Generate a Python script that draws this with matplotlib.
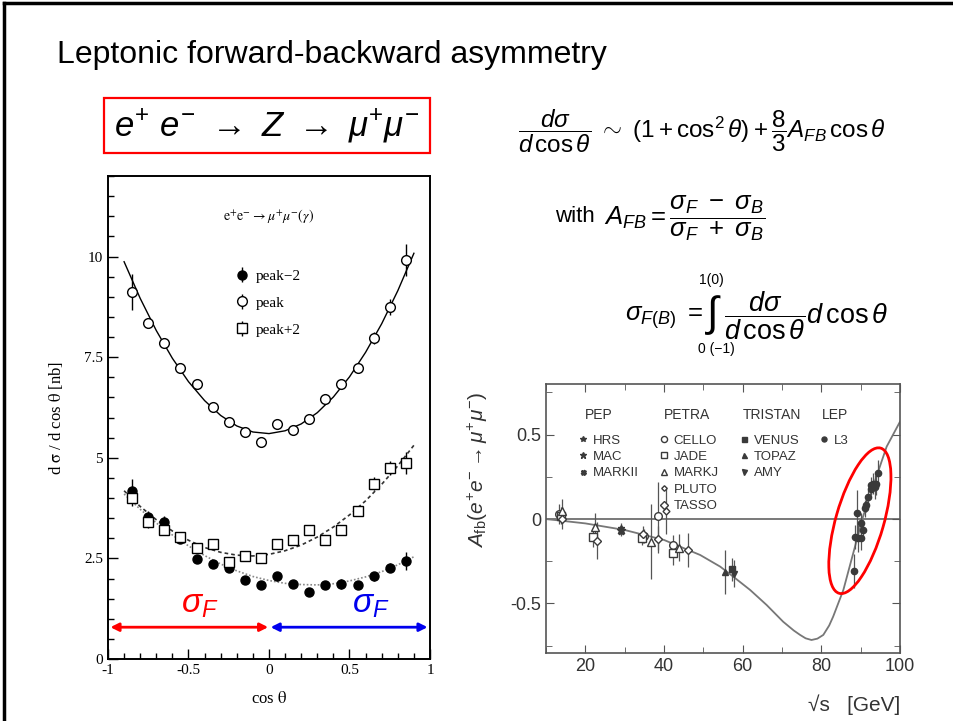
import numpy as np
import matplotlib
matplotlib.use('Agg')
import matplotlib.pyplot as plt
from matplotlib.patches import Rectangle, Ellipse
from matplotlib.lines import Line2D
import matplotlib.transforms as mtransforms
from matplotlib.ticker import MultipleLocator, FuncFormatter

plt.rcParams['axes.unicode_minus'] = False
plt.rcParams['mathtext.fontset'] = 'custom'
plt.rcParams['mathtext.rm'] = 'Liberation Sans'
plt.rcParams['mathtext.it'] = 'Liberation Sans:italic'
plt.rcParams['mathtext.bf'] = 'Liberation Sans:bold'
plt.rcParams['font.family'] = ['Liberation Sans', 'DejaVu Sans']

# ---------------- left panel data ----------------
cos_theta = [-0.85, -0.75, -0.65, -0.55, -0.45, -0.35, -0.25, -0.15, -0.05,
             0.05, 0.15, 0.25, 0.35, 0.45, 0.55, 0.65, 0.75, 0.85]
peak = [9.11, 8.35, 7.85, 7.24, 6.82, 6.27, 5.90, 5.65, 5.40,
        5.83, 5.68, 5.96, 6.45, 6.82, 7.24, 7.98, 8.74, 9.92]
peak_err = [0.45, 0.12, 0.12, 0.12, 0.12, 0.12, 0.12, 0.12, 0.12,
            0.12, 0.12, 0.12, 0.12, 0.12, 0.12, 0.15, 0.2, 0.4]
peak_m2 = [4.17, 3.52, 3.40, 2.99, 2.49, 2.37, 2.27, 1.96, 1.85,
           2.05, 1.86, 1.67, 1.83, 1.86, 1.83, 2.05, 2.27, 2.43]
peak_m2_err = [0.3, 0.15, 0.15, 0.12, 0.1, 0.1, 0.1, 0.1, 0.1,
               0.12, 0.1, 0.1, 0.1, 0.12, 0.1, 0.1, 0.12, 0.22]
peak_p2 = [4.00, 3.40, 3.21, 3.04, 2.76, 2.86, 2.41, 2.57, 2.52,
           2.86, 2.95, 3.21, 2.96, 3.21, 3.67, 4.36, 4.74, 4.87]
peak_p2_err = [0.2, 0.15, 0.12, 0.1, 0.1, 0.1, 0.1, 0.1, 0.1,
               0.1, 0.1, 0.1, 0.1, 0.12, 0.12, 0.15, 0.18, 0.28]

fit_x = [-0.9, -0.8, -0.7, -0.6, -0.5, -0.4, -0.3, -0.2, -0.1, 0.0,
         0.1, 0.2, 0.3, 0.4, 0.5, 0.6, 0.7, 0.8, 0.9]
fit_peak = [9.87, 8.96, 8.16, 7.47, 6.89, 6.42, 6.05, 5.79, 5.64, 5.60,
            5.67, 5.84, 6.12, 6.51, 7.01, 7.62, 8.33, 9.15, 10.08]
fit_p2 = [4.18, 3.79, 3.46, 3.18, 2.95, 2.77, 2.65, 2.58, 2.56, 2.60,
          2.69, 2.83, 3.03, 3.28, 3.58, 3.93, 4.34, 4.80, 5.31]
fit_m2 = [4.10, 3.72, 3.38, 3.08, 2.81, 2.57, 2.36, 2.19, 2.05, 1.95,
          1.88, 1.85, 1.84, 1.87, 1.94, 2.04, 2.17, 2.34, 2.54]

# ---------------- right panel data ----------------
curve_sqrts = [10, 20, 30, 40, 49.2, 54.3, 57.6, 61.9, 66.1, 70.3, 73.0, 74.6,
               76.0, 77.5, 79.0, 80.5, 82.0, 83.0, 85.6, 88.1, 90.6, 94.0, 96.6, 100]
curve_afb = [0.0, -0.026, -0.065, -0.124, -0.213, -0.282, -0.341, -0.42, -0.509,
             -0.608, -0.66, -0.686, -0.706, -0.716, -0.708, -0.686, -0.63, -0.578,
             -0.42, -0.203, 0.014, 0.25, 0.428, 0.576]

experiments = ['HRS', 'MAC', 'MARKII', 'CELLO', 'JADE', 'MARKJ', 'PLUTO', 'TASSO',
               'VENUS', 'TOPAZ', 'AMY', 'L3']
exp_x = {
    'HRS': [29.0], 'MAC': [29.0], 'MARKII': [29.0],
    'CELLO': [13.4, 34.8, 38.6, 42.4],
    'JADE': [13.8, 21.9, 34.5, 42.4],
    'MARKJ': [14.1, 22.5, 36.8, 43.9],
    'PLUTO': [40.5],
    'TASSO': [14.0, 23.0, 34.6, 38.5, 46.2],
    'VENUS': [57.2], 'TOPAZ': [55.5], 'AMY': [57.8],
    'L3': [88.3, 88.5, 89.0, 89.4, 90.0, 90.2, 90.5, 91.2, 91.4, 91.9,
           92.5, 92.7, 93.2, 93.7, 93.9, 94.5],
}
exp_y = {
    'HRS': [-0.055], 'MAC': [-0.063], 'MARKII': [-0.07],
    'CELLO': [0.03, -0.10, 0.018, -0.154],
    'JADE': [0.02, -0.105, -0.115, -0.203],
    'MARKJ': [0.05, -0.045, -0.134, -0.17],
    'PLUTO': [0.05],
    'TASSO': [0.0, -0.128, -0.09, -0.12, -0.183],
    'VENUS': [-0.298], 'TOPAZ': [-0.312], 'AMY': [-0.325],
    'L3': [-0.31, -0.108, 0.034, -0.114, -0.114, -0.026, -0.065, 0.063, 0.083, 0.13,
           0.18, 0.2, 0.21, 0.19, 0.21, 0.27],
}
exp_err = {
    'HRS': [0.03], 'MAC': [0.03], 'MARKII': [0.03],
    'CELLO': [0.06, 0.04, 0.2, 0.06],
    'JADE': [0.05, 0.06, 0.04, 0.07],
    'MARKJ': [0.07, 0.08, 0.22, 0.08],
    'PLUTO': [0.14],
    'TASSO': [0.06, 0.11, 0.05, 0.08, 0.1],
    'VENUS': [0.07], 'TOPAZ': [0.13], 'AMY': [0.08],
    'L3': [0.1, 0.07, 0.14, 0.08, 0.07, 0.06, 0.06, 0.05, 0.04, 0.04,
           0.04, 0.05, 0.06, 0.07, 0.07, 0.08],
}
exp_marker = {'HRS': ('*', True, 5), 'MAC': ('*', True, 6), 'MARKII': ('X', True, 4.5),
              'CELLO': ('o', False, 5.5), 'JADE': ('s', False, 5.5), 'MARKJ': ('^', False, 5.5),
              'PLUTO': ('D', False, 3.5), 'TASSO': ('D', False, 4.5),
              'VENUS': ('s', True, 4.5), 'TOPAZ': ('^', True, 4.5), 'AMY': ('v', True, 4.5),
              'L3': ('o', True, 4.5)}
legend_columns = [['HRS', 'MAC', 'MARKII', None, None],
                  ['CELLO', 'JADE', 'MARKJ', 'PLUTO', 'TASSO'],
                  ['VENUS', 'TOPAZ', 'AMY', None, None],
                  ['L3', None, None, None, None]]
lab_headers = ['PEP', 'PETRA', 'TRISTAN', 'LEP']

W, H = 954, 721
fig = plt.figure(figsize=(W / 100, H / 100), dpi=100)

def fx(px):
    return px / W

def fy(py):
    return 1 - py / H

# slide frame
fig.add_artist(Line2D([fx(4), fx(4)], [0, fy(3)], transform=fig.transFigure, color='black', lw=2.5))
fig.add_artist(Line2D([fx(4), 1], [fy(3), fy(3)], transform=fig.transFigure, color='black', lw=2.5))

# title
fig.text(fx(57), fy(55), 'Leptonic forward-backward asymmetry', fontsize=23, va='center', ha='left')

# red box with reaction
fig.add_artist(Rectangle((fx(104), fy(153)), fx(430) - fx(104), fy(98) - fy(153),
                         transform=fig.transFigure, fill=False, ec='red', lw=1.6))
fig.text(fx(267), fy(126), r'$e^{+}\ e^{-}\ \rightarrow\ Z\ \rightarrow\ \mu^{+}\mu^{-}$',
         fontsize=25, ha='center', va='center')

# formulas
fig.text(fx(518), fy(131), r'$\dfrac{d\sigma}{d\,\cos\theta}\ \sim\ (1+\cos^{2}\theta)+\dfrac{8}{3}A_{FB}\,\cos\theta$',
         fontsize=17.5, ha='left', va='center')
fig.text(fx(555), fy(216), 'with', fontsize=16, ha='left', va='center')
fig.text(fx(604), fy(218), r'$A_{FB}=\dfrac{\sigma_F\ -\ \sigma_B}{\sigma_F\ +\ \sigma_B}$',
         fontsize=18.5, ha='left', va='center')
fig.text(fx(625), fy(318), r'$\sigma_{F(B)}\ =$', fontsize=18.5, ha='left', va='center')
fig.text(fx(714), fy(315), r'$\int$', fontsize=30, ha='center', va='center')
fig.text(fx(711), fy(280), '1(0)', fontsize=10, ha='center', va='center')
fig.text(fx(716), fy(349), '0 (\u22121)', fontsize=10, ha='center', va='center')
fig.text(fx(724), fy(316), r'$\dfrac{d\sigma}{d\,\cos\theta}d\,\cos\theta$', fontsize=19.5, ha='left', va='center')

# ---------------- left panel ----------------
axL = fig.add_axes([fx(108), fy(659), fx(430) - fx(108), fy(176) - fy(659)])
axL.set_xlim(-1, 1)
axL.set_ylim(0, 12)
axL.plot(fit_x, fit_peak, color='black', lw=1.0)
axL.plot(fit_x, fit_p2, color='#333333', lw=1.2, ls=(0, (2.2, 1.8)))
axL.plot(fit_x, fit_m2, color='#888888', lw=1.2, ls=(0, (1, 1.2)))
h1 = axL.errorbar(cos_theta, peak_m2, yerr=peak_m2_err, fmt='o', mfc='black', mec='black',
                  ms=6.5, ecolor='black', elinewidth=1, capsize=0, label='peak\u22122')
h2 = axL.errorbar(cos_theta, peak, yerr=peak_err, fmt='o', mfc='white', mec='black', mew=1,
                  ms=7, ecolor='black', elinewidth=1, capsize=0, label='peak')
h3 = axL.errorbar(cos_theta, peak_p2, yerr=peak_p2_err, fmt='s', mfc='white', mec='black', mew=1,
                  ms=7, ecolor='black', elinewidth=1, capsize=0, label='peak+2')
leg = axL.legend(handles=[h1, h2, h3], loc='upper left', bbox_to_anchor=(0.355, 0.835),
                 frameon=False, handlelength=0.8, handletextpad=0.5, labelspacing=0.85,
                 prop={'family': 'Liberation Serif', 'size': 11})

axL.text(0.0, 11.0, r'$\mathrm{e}^{+}\mathrm{e}^{-}\rightarrow\mu^{+}\mu^{-}(\gamma)$', ha='center', va='center',
         fontsize=10, math_fontfamily='stix')

fmt_g = FuncFormatter(lambda v, p: '%g' % v)
axL.xaxis.set_major_locator(MultipleLocator(0.5))
axL.xaxis.set_minor_locator(MultipleLocator(0.1))
axL.yaxis.set_major_locator(MultipleLocator(2.5))
axL.yaxis.set_minor_locator(MultipleLocator(0.5))
axL.xaxis.set_major_formatter(fmt_g)
axL.yaxis.set_major_formatter(fmt_g)
axL.tick_params(which='both', direction='in', top=False, right=False, labelsize=11, width=1)
axL.tick_params(which='major', length=7)
axL.tick_params(which='minor', length=4)
for lbl in axL.get_xticklabels() + axL.get_yticklabels():
    lbl.set_family('Liberation Serif')
for s in axL.spines.values():
    s.set_linewidth(1.4)
axL.set_xlabel(r'cos $\mathrm{\theta}$', fontsize=12, family='Liberation Serif', math_fontfamily='stix', labelpad=10)
axL.set_ylabel(r'd $\mathrm{\sigma}$ / d cos $\mathrm{\theta}$ [nb]', fontsize=12, family='Liberation Serif',
               math_fontfamily='stix', labelpad=14)

axL.annotate('', xy=(-0.985, 0.79), xytext=(-0.005, 0.79),
             arrowprops=dict(arrowstyle='<|-|>', color='red', lw=2, mutation_scale=12, shrinkA=0, shrinkB=0))
axL.annotate('', xy=(0.985, 0.79), xytext=(0.01, 0.79),
             arrowprops=dict(arrowstyle='<|-|>', color='#0000ee', lw=2, mutation_scale=12, shrinkA=0, shrinkB=0))
axL.text(-0.43, 1.35, r'$\sigma_F$', color='red', fontsize=24, ha='center', va='center')
axL.text(0.63, 1.35, r'$\sigma_F$', color='#0000ee', fontsize=24, ha='center', va='center')

# ---------------- right panel ----------------
gray = '#3a3a3a'
axR = fig.add_axes([fx(546), fy(653), fx(900) - fx(546), fy(384) - fy(653)])
axR.set_xlim(10, 100)
axR.set_ylim(-0.793, 0.799)
axR.axhline(0, color='#555555', lw=1.1)
axR.plot(curve_sqrts, curve_afb, color='#777777', lw=1.3)

for e in experiments:
    m, filled, ms = exp_marker[e]
    axR.errorbar(exp_x[e], exp_y[e], yerr=exp_err[e], fmt=m, ms=ms,
                 mfc=gray if filled else 'white', mec=gray, mew=1, ecolor='#555555',
                 elinewidth=0.9, capsize=0, label=e, zorder=3)

blank = Line2D([], [], ls='none', marker='none')
leg_handles, leg_labels = [], []
for col in legend_columns:
    for e in col:
        if e is None:
            leg_handles.append(blank)
            leg_labels.append(' ')
        else:
            m, filled, ms = exp_marker[e]
            leg_handles.append(Line2D([], [], ls='none', marker=m, ms=ms * 0.8,
                                      mfc=gray if filled else 'white', mec=gray, mew=1))
            leg_labels.append(e)
legR = axR.legend(leg_handles, leg_labels, ncol=4, loc='upper left', bbox_to_anchor=(0.057, 0.857),
                  frameon=False, handlelength=0.7, handletextpad=0.4, columnspacing=1.55,
                  labelspacing=0.32, prop={'size': 9.5})
for t in legR.get_texts():
    t.set_color('#333333')
header_x = [0.109, 0.333, 0.556, 0.779]
for hx, hd in zip(header_x, lab_headers):
    axR.text(hx, 0.886, hd, transform=axR.transAxes, fontsize=10, color='#333333', ha='left', va='center')

# red ellipse around LEP data
ell_tr = fig.dpi_scale_trans + mtransforms.ScaledTranslation(89.8, -0.01, axR.transData)
axR.add_patch(Ellipse((0, 0), width=1.51, height=0.48, angle=74, transform=ell_tr,
                      fill=False, ec='red', lw=2, zorder=5))

axR.xaxis.set_major_locator(MultipleLocator(20))
axR.xaxis.set_minor_locator(MultipleLocator(10))
axR.yaxis.set_major_locator(MultipleLocator(0.5))
axR.yaxis.set_minor_locator(MultipleLocator(0.25))
axR.yaxis.set_major_formatter(fmt_g)
axR.tick_params(which='both', direction='in', top=True, right=True, labelsize=13,
                colors='#555555', labelcolor='#333333')
axR.tick_params(which='major', length=6)
axR.tick_params(which='minor', length=4)
for s in axR.spines.values():
    s.set_linewidth(1.2)
    s.set_color('#555555')
axR.set_ylabel(r'$A_{\rm fb}(e^{+}e^{-}\rightarrow\mu^{+}\mu^{-})$', fontsize=15, color='#333333')
axR.yaxis.set_label_coords(-0.158, 0.68)
fig.text(fx(900), fy(705), '\u221As   [GeV]', fontsize=15, ha='right', va='center', color='#333333')

fig.savefig('out.png', dpi=100)
